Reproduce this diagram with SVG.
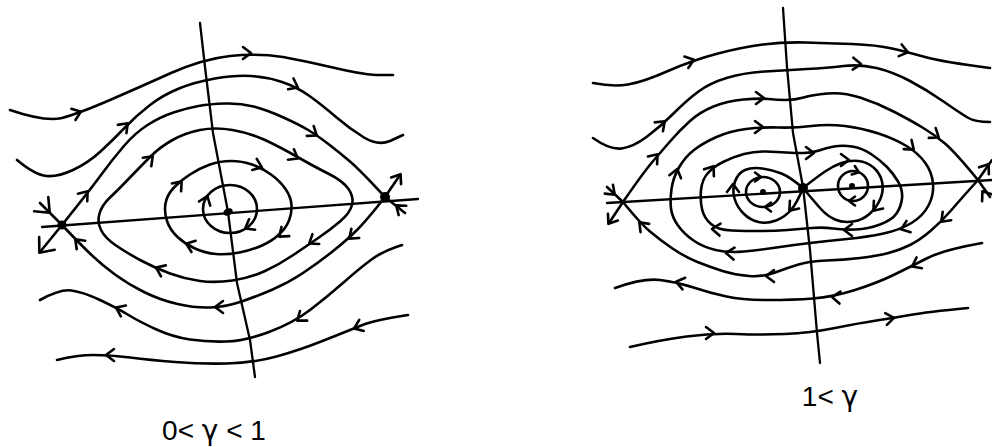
<svg xmlns="http://www.w3.org/2000/svg" width="992" height="447" viewBox="0 0 992 447">
<style>
.ln{fill:none;stroke:#000;stroke-width:2.6;stroke-linecap:round;stroke-linejoin:round}
.ax{fill:none;stroke:#000;stroke-width:2.3;stroke-linecap:round;stroke-linejoin:round}
.dot{fill:#000}
.lbl{font-family:"Liberation Sans",Arial,sans-serif;font-size:28px;fill:#000}
.g{font-family:"DejaVu Sans",sans-serif}
</style>
<defs>
<path id="a" class="ln" d="M-7,-6 L1,0 L-7,6"/>
<path id="s" class="ln" d="M-5,-4.5 L1,0 L-5,4.5"/>
<path id="b" class="ln" d="M-11,-10 L1,0 L-11,10"/>
</defs>
<rect width="992" height="447" fill="#fff"/>

<g id="left-portrait">
<g id="left-axes">
<path class="ax" d="M200,23 L205,67 L213,133 L228,212 L237,283 L250,340 L255,377"/>
<path class="ax" d="M42,227 L418,199"/>
</g>
<g id="left-trajectories">
<path class="ln" d="M10,110 Q45,122 62,118 Q80,113 110,100 Q140,87 171,73 Q203,59 230,56 Q257,53 283,57 Q310,62 335,68 Q360,74 376,75 L393,75"/>
<path class="ln" d="M17,160 Q35,175 46.5,176 Q58,177 73,170 Q88,163 100.5,151.5 Q113,140 125,127.5 Q137,115 150,105 Q163,95 179,88.5 Q195,82 215,78.5 Q235,75 251,76 Q267,77 282,82 Q297,87 309.5,96 Q322,105 336,117 Q350,129 364,137.5 Q378,146 390,141 L403,135"/>
<path class="ln" d="M62,225 Q90,190 101,175 Q112,160 123.5,146.5 Q135,133 147.5,125 Q160,117 173.5,112.5 Q187,108 198.5,106 Q210,104 225,103.5 Q240,103 253.5,106.5 Q267,110 283.5,117.5 Q300,125 309,130.5 Q318,136 329,144.5 Q340,153 350,161.5 Q360,170 385,197"/>
<path class="ln" d="M99.5,213.5 Q102,205 110,197.5 Q118,190 129,178.5 Q140,167 150,157 Q160,147 172.5,140 Q185,133 200,130 Q215,127 232.5,130 Q250,133 265,140 Q280,147 297.5,157 Q315,167 329,174 Q343,181 348.5,189 Q354,197 352,205 Q350,213 340,221.5 Q330,230 317.5,238.5 Q305,247 292.5,255.5 Q280,264 265,271 Q250,278 232.5,280.5 Q215,283 200,281 Q185,279 170,273.5 Q155,268 141,260.5 Q127,253 116,245.5 Q105,238 101,230 Q97,222 99.5,213.5 Z"/>
<path class="ln" d="M165.5,203.5 Q167,195 173.5,188 Q180,181 190,174.5 Q200,168 210,164.5 Q220,161 231,161 Q242,161 252,164.5 Q262,168 271,174.5 Q280,181 285.5,189 Q291,197 291.5,205 Q292,213 289,220.5 Q286,228 279,234.5 Q272,241 262,245.5 Q252,250 239.5,252.5 Q227,255 216,254 Q205,253 195,248.5 Q185,244 177.5,237 Q170,230 167,221 Q164,212 165.5,203.5 Z"/>
<ellipse class="ln" cx="230" cy="209" rx="27" ry="24"/>
<path class="ln" d="M62,225 Q80,244 91,254.5 Q102,265 115,274.5 Q128,284 144,292 Q160,300 177.5,304 Q195,308 210,307.5 Q225,307 240,302 Q255,297 271.5,290 Q288,283 303,273 Q318,263 332.5,251.5 Q347,240 357,230 Q367,220 385,197"/>
<path class="ln" d="M40,300 Q60,289 71.5,290.5 Q83,292 100,300 Q117,308 128.5,315 Q140,322 156.5,329.5 Q173,337 190,339.5 Q207,342 226,341.5 Q245,341 269,332 Q293,323 310,310 Q327,297 343.5,282.5 Q360,268 371.5,259.5 Q383,251 402,245"/>
<path class="ln" d="M57,360 Q77,355 93.5,355 Q110,355 130,357.5 Q150,360 175,362 Q200,364 226.5,363.5 Q253,363 276.5,356.5 Q300,350 325,340 Q350,330 362.5,325 Q375,320 408,315"/>
<path class="ln" d="M40,203 L62,225 L40,252"/>
<path class="ln" d="M400,175 L385,197 L405,213"/>
</g>
<g id="left-arrows">
<use href="#a" transform="translate(80,112) rotate(-20)"/>
<use href="#a" transform="translate(250,53) rotate(0)"/>
<use href="#a" transform="translate(127,124) rotate(-46)"/>
<use href="#a" transform="translate(297,87) rotate(27)"/>
<use href="#a" transform="translate(87,192) rotate(-51)"/>
<use href="#a" transform="translate(316,135) rotate(35)"/>
<use href="#a" transform="translate(152,157) rotate(-45)"/>
<use href="#a" transform="translate(297,158) rotate(30)"/>
<use href="#a" transform="translate(310,243) rotate(146)"/>
<use href="#a" transform="translate(157,268) rotate(204)"/>
<use href="#a" transform="translate(181,182) rotate(-50)"/>
<use href="#a" transform="translate(261,167) rotate(22)"/>
<use href="#a" transform="translate(280,236) rotate(140)"/>
<use href="#a" transform="translate(187,244) rotate(200)"/>
<use href="#a" transform="translate(207,197) rotate(-70)"/>
<use href="#a" transform="translate(246,228) rotate(150)"/>
<use href="#a" transform="translate(76,240) rotate(225)"/>
<use href="#a" transform="translate(216,307) rotate(180)"/>
<use href="#a" transform="translate(350,238) rotate(139)"/>
<use href="#a" transform="translate(117,308) rotate(205)"/>
<use href="#a" transform="translate(298,320) rotate(143)"/>
<use href="#a" transform="translate(107,355) rotate(180)"/>
<use href="#a" transform="translate(355,328) rotate(158)"/>
<use href="#b" transform="translate(49,212) rotate(45)"/>
<use href="#b" transform="translate(40,252) rotate(129)"/>
<use href="#a" transform="translate(400,175) rotate(-56)"/>
<use href="#a" transform="translate(397,206) rotate(-141)"/>
</g>
<g id="left-points">
<circle class="dot" cx="62" cy="225" r="4.5"/>
<circle class="dot" cx="385" cy="197" r="5"/>
<ellipse class="dot" cx="228" cy="212" rx="5" ry="3.5" transform="rotate(-25 228 212)"/>
</g>
<text class="lbl" x="214" y="440" text-anchor="middle">0&lt; <tspan class="g">γ</tspan> &lt; 1</text>
</g>

<g id="right-portrait">
<g id="right-axes">
<path class="ax" d="M783,8 L787,67 L793,133 L803,187 L810,250 L817,333 L820,363"/>
<path class="ax" d="M607,203 L992,180"/>
</g>
<g id="right-trajectories">
<path class="ln" d="M593,83 Q613,87 628,84.5 Q643,82 668,71 Q693,60 718,53.5 Q743,47 763,44.5 Q783,42 805,42.5 Q827,43 852,44 Q877,45 892,48.5 Q907,52 925,57 Q943,62 990,68"/>
<path class="ln" d="M593,138 Q610,150 621.5,148.5 Q633,147 646.5,137 Q660,127 673.5,113.5 Q687,100 698.5,91.5 Q710,83 726.5,78 Q743,73 765,71.5 Q787,70 807,69 Q827,68 843.5,66 Q860,64 876.5,68 Q893,72 910,81 Q927,90 943.5,101.5 Q960,113 967.5,117.5 Q975,122 990,122"/>
<path class="ln" d="M623,202 Q643,173 651.5,163 Q660,153 670,141.5 Q680,130 690,121 Q700,112 713.5,106.5 Q727,101 743.5,99.5 Q760,98 768.5,99 Q777,100 786,100 Q795,100 803.5,97.5 Q812,95 827.5,93.5 Q843,92 860,97.5 Q877,103 893.5,111.5 Q910,120 922.5,127.5 Q935,135 945,143.5 Q955,152 978,180"/>
<path class="ln" d="M623,202 Q640,223 650,231.5 Q660,240 672.5,248.5 Q685,257 697.5,262 Q710,267 722.5,271 Q735,275 749,276 Q763,277 775,272.5 Q787,268 798.5,264.5 Q810,261 826.5,260.5 Q843,260 860,258 Q877,256 888.5,253 Q900,250 910,245 Q920,240 931,230.5 Q942,221 951,210.5 Q960,200 978,180"/>
<path class="ln" d="M615,288 Q643,278 660,280 Q677,282 693.5,287.5 Q710,293 726.5,296.5 Q743,300 768,300 Q793,300 813,298.5 Q833,297 855,290 Q877,283 893.5,275 Q910,267 926.5,258.5 Q943,250 982,243"/>
<path class="ln" d="M630,347 Q660,340 686.5,336.5 Q713,333 736.5,334 Q760,335 785,334 Q810,333 835,328 Q860,323 876.5,320.5 Q893,318 910,315 Q927,312 968,308"/>
<path class="ln" d="M671.5,189 Q673,178 679,167.5 Q685,157 694,150 Q703,143 716.5,137 Q730,131 746,129 Q762,127 778.5,127.5 Q795,128 811.5,126 Q828,124 845,126 Q862,128 878.5,133.5 Q895,139 906.5,146 Q918,153 925,162.5 Q932,172 933,183.5 Q934,195 928.5,205.5 Q923,216 911.5,223 Q900,230 883.5,233.5 Q867,237 847,239 Q827,241 810,243 Q793,245 776.5,247.5 Q760,250 744,251.5 Q728,253 715.5,250 Q703,247 693.5,240.5 Q684,234 678,225.5 Q672,217 671,208.5 Q670,200 671.5,189 Z"/>
<path class="ln" d="M701,190 Q702,180 707.5,173.5 Q713,167 723,162 Q733,157 744,154 Q755,151 766,151.5 Q777,152 786,152.5 Q795,153 803.5,153 Q812,153 819,150.5 Q826,148 834,146.5 Q842,145 852,146.5 Q862,148 871,154 Q880,160 886.5,166.5 Q893,173 898,181.5 Q903,190 902,198.5 Q901,207 896.5,213.5 Q892,220 880,224.5 Q868,229 855.5,229.5 Q843,230 833,228.5 Q823,227 811.5,228 Q800,229 787.5,230 Q775,231 760,231 Q745,231 731.5,230.5 Q718,230 711,224 Q704,218 702,209 Q700,200 701,190 Z"/>
<path class="ln" d="M803,188 Q790,177 781.5,173.5 Q773,170 762.5,168.5 Q752,167 745,170 Q738,173 735,181.5 Q732,190 734.5,198.5 Q737,207 743.5,213.5 Q750,220 758.5,222 Q767,224 776,220.5 Q785,217 791,210 Q797,203 803,188"/>
<path class="ln" d="M803,188 Q817,177 825,171.5 Q833,166 841.5,163 Q850,160 858.5,161 Q867,162 873.5,167.5 Q880,173 882,181.5 Q884,190 880.5,198.5 Q877,207 870,213.5 Q863,220 853,221.5 Q843,223 835,219.5 Q827,216 820,208 Q813,200 803,188"/>
<ellipse class="ln" cx="763" cy="192" rx="17" ry="15"/>
<ellipse class="ln" cx="853" cy="186" rx="15" ry="15"/>
<path class="ln" d="M607,187 L623,202 L609,223"/>
<path class="ln" d="M992,160 L978,180 L990,197"/>
</g>
<g id="right-arrows">
<use href="#a" transform="translate(693,60) rotate(-19)"/>
<use href="#a" transform="translate(907,52) rotate(14)"/>
<use href="#a" transform="translate(664,122) rotate(-43)"/>
<use href="#a" transform="translate(860,64) rotate(3)"/>
<use href="#a" transform="translate(657,155) rotate(-50)"/>
<use href="#a" transform="translate(763,98) rotate(0)"/>
<use href="#a" transform="translate(938,137) rotate(35)"/>
<use href="#a" transform="translate(640,223) rotate(226)"/>
<use href="#a" transform="translate(767,276) rotate(180)"/>
<use href="#a" transform="translate(942,221) rotate(135)"/>
<use href="#a" transform="translate(677,282) rotate(193)"/>
<use href="#a" transform="translate(833,297) rotate(185)"/>
<use href="#a" transform="translate(913,266) rotate(153)"/>
<use href="#a" transform="translate(713,333) rotate(0)"/>
<use href="#a" transform="translate(893,318) rotate(-8)"/>
<use href="#a" transform="translate(677,170) rotate(-75)"/>
<use href="#a" transform="translate(762,127) rotate(0)"/>
<use href="#a" transform="translate(913,149) rotate(40)"/>
<use href="#a" transform="translate(902,229) rotate(160)"/>
<use href="#a" transform="translate(727,253) rotate(185)"/>
<use href="#a" transform="translate(713,167) rotate(-55)"/>
<use href="#a" transform="translate(813,153) rotate(0)"/>
<use href="#a" transform="translate(845,230) rotate(180)"/>
<use href="#a" transform="translate(713,229) rotate(185)"/>
<use href="#a" transform="translate(733,185) rotate(-90)"/>
<use href="#a" transform="translate(790,210) rotate(130)"/>
<use href="#a" transform="translate(848,160) rotate(0)"/>
<use href="#a" transform="translate(874,210) rotate(130)"/>
<use href="#s" transform="translate(760,177) rotate(0)"/>
<use href="#s" transform="translate(766,207) rotate(180)"/>
<use href="#s" transform="translate(858,172) rotate(20)"/>
<use href="#s" transform="translate(850,201) rotate(180)"/>
<use href="#a" transform="translate(614,194) rotate(43)"/>
<use href="#a" transform="translate(609,223) rotate(124)"/>
<use href="#a" transform="translate(988,165) rotate(-55)"/>
<use href="#a" transform="translate(983,192) rotate(-125)"/>
</g>
<g id="right-points">
<circle class="dot" cx="803" cy="188" r="5"/>
<circle class="dot" cx="763" cy="192" r="3"/>
<circle class="dot" cx="852" cy="186" r="3"/>
</g>
<text class="lbl" x="830" y="406" text-anchor="middle">1&lt; <tspan class="g">γ</tspan></text>
</g>
</svg>
